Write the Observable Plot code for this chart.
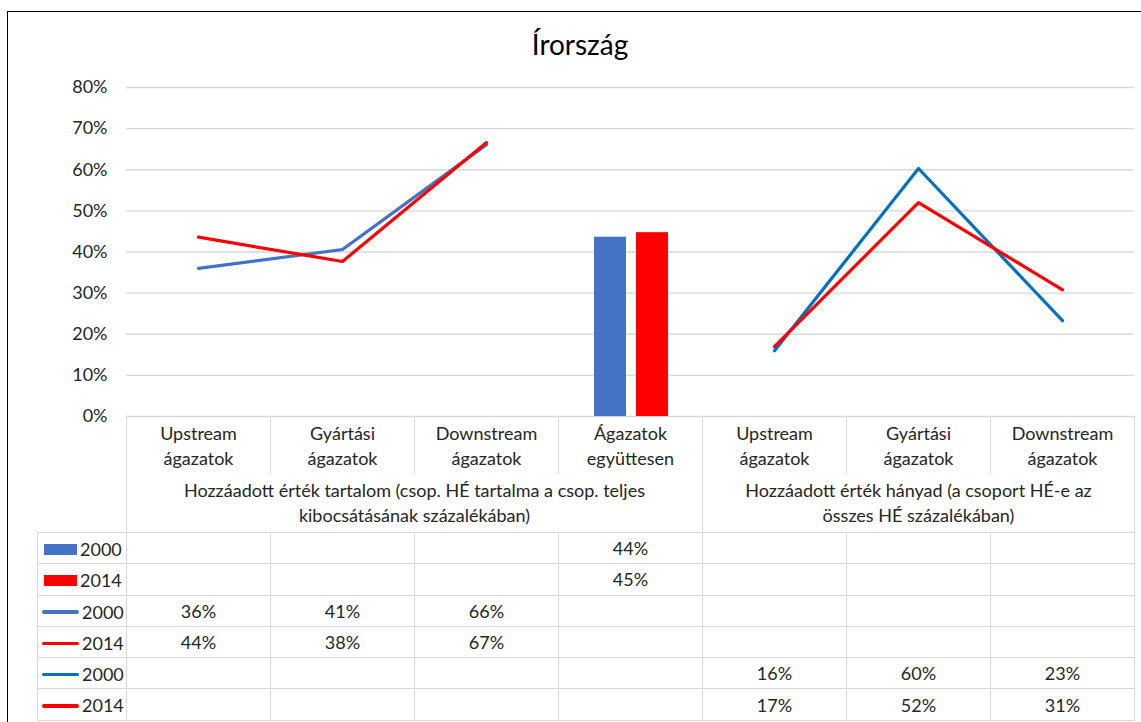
<!DOCTYPE html>
<html>
<head>
<meta charset="utf-8">
<script src="https://cdn.jsdelivr.net/npm/d3@7"></script>
<script src="https://cdn.jsdelivr.net/npm/@observablehq/plot@0.6"></script>
<style>
  html, body { margin: 0; padding: 0; background: #fff; }
  #wrap { position: relative; width: 1141px; height: 722px; overflow: hidden; font-family: Lato, "Open Sans", sans-serif; color: #262626; }
  #frame { position: absolute; left: 7px; top: 11px; width: 1146px; height: 730px; border: 1.5px solid #000; box-sizing: border-box; }
  #title { position: absolute; left: 0; top: 26px; width: 1160px; text-align: center; font-size: 28px; line-height: 36px; color: #000; }
  #chart { position: absolute; left: 0; top: 0; }
  #table { position: absolute; left: 37px; top: 416px; border-collapse: collapse; table-layout: fixed; font-size: 18px; color: #262626; }
  #table td { padding: 0; text-align: center; border: 1px solid #d9d9d9; white-space: nowrap; }
  #table td.blank { border: none; }
  #table tr.cats td.cat { border-bottom: none; vertical-align: top; padding-top: 4px; line-height: 25px; }
  #table tr.groups td.grp { border-top: none; vertical-align: middle; line-height: 25px; white-space: normal; }
  #table tr.data td { height: 30.3px; line-height: 20px; }
  #table td.leg { text-align: left; padding-left: 5px; }
  .key { display: inline-block; vertical-align: middle; margin-right: 3px; }
</style>
</head>
<body>
<div id="wrap">
  <div id="frame"></div>
  <div id="title"></div>
  <div id="chart"></div>
  <table id="table"></table>
</div>
<script>
// ---------- data ----------
const title = "Írország";
const categories = [
  "Upstream ágazatok", "Gyártási ágazatok", "Downstream ágazatok", "Ágazatok együttesen",
  "Upstream ágazatok", "Gyártási ágazatok", "Downstream ágazatok"
];
const categoryLines = [
  ["Upstream", "ágazatok"], ["Gyártási", "ágazatok"], ["Downstream", "ágazatok"], ["Ágazatok", "együttesen"],
  ["Upstream", "ágazatok"], ["Gyártási", "ágazatok"], ["Downstream", "ágazatok"]
];
const groupLabels = [
  ["Hozzáadott érték tartalom (csop. HÉ tartalma a csop. teljes", "kibocsátásának százalékában)"],
  ["Hozzáadott érték hányad (a csoport HÉ-e az", "összes HÉ százalékában)"]
];
const groupSpans = [4, 3];
const yTicks = [0, 0.1, 0.2, 0.3, 0.4, 0.5, 0.6, 0.7, 0.8];

// bars: "Ágazatok együttesen" (category index 3)
const barCategory = [3];
const bar2000 = [0.436];
const bar2014 = [0.447];

// lines: value-added content (category indices 0-2)
const contentCategories = [0, 1, 2];
const content2000 = [0.36, 0.406, 0.661];
const content2014 = [0.436, 0.377, 0.666];

// lines: value-added share (category indices 4-6)
const shareCategories = [4, 5, 6];
const share2000 = [0.16, 0.603, 0.233];
const share2014 = [0.17, 0.52, 0.308];

const seriesLabels = ["2000", "2014", "2000", "2014", "2000", "2014"];

// ---------- build ----------
const FONT = "Lato, 'Open Sans', sans-serif";
const pct = d3.format(".0%");
const zip = (cats, vals) => cats.map((c, i) => ({x: c, value: vals[i]}));

const series = [
  {label: seriesLabels[0], kind: "bar", color: "#4472C4", cats: barCategory, vals: bar2000},
  {label: seriesLabels[1], kind: "bar", color: "#FF0000", cats: barCategory, vals: bar2014},
  {label: seriesLabels[2], kind: "line", color: "#4472C4", cats: contentCategories, vals: content2000},
  {label: seriesLabels[3], kind: "line", color: "#FF0000", cats: contentCategories, vals: content2014},
  {label: seriesLabels[4], kind: "line", color: "#0070C0", cats: shareCategories, vals: share2000},
  {label: seriesLabels[5], kind: "line", color: "#FF0000", cats: shareCategories, vals: share2014}
];

document.getElementById("title").textContent = title;

const xDomain = d3.range(categories.length);

const chart = Plot.plot({
  width: 1141,
  height: 430,
  marginLeft: 126,
  marginRight: 7,
  marginTop: 87,
  marginBottom: 14,
  style: {fontFamily: FONT, fontSize: "18px", color: "#262626", background: "transparent", overflow: "visible"},
  x: {type: "band", domain: xDomain, padding: 0, axis: null, label: null},
  y: {domain: [0, 0.8], axis: null, label: null},
  marks: [
    Plot.ruleY(yTicks, {stroke: "#d9d9d9", strokeWidth: 1.3}),
    Plot.axisY({ticks: yTicks, tickFormat: pct, tickSize: 0, tickPadding: 19, fontSize: 18, fill: "#262626", label: null}),
    Plot.barY(zip(series[0].cats, series[0].vals), {x: "x", y: "value", fill: series[0].color, insetLeft: 36, insetRight: 76}),
    Plot.barY(zip(series[1].cats, series[1].vals), {x: "x", y: "value", fill: series[1].color, insetLeft: 78, insetRight: 34}),
    ...series.slice(2).map(s =>
      Plot.line(zip(s.cats, s.vals), {x: "x", y: "value", stroke: s.color, strokeWidth: 3.2, strokeLinecap: "round", strokeLinejoin: "round"})
    )
  ]
});
document.getElementById("chart").appendChild(chart);

// ---------- data table ----------
const table = d3.select("#table");
const colgroup = table.append("colgroup");
colgroup.append("col").style("width", "89px");
categories.forEach(() => colgroup.append("col").style("width", "144px"));

const catRow = table.append("tr").attr("class", "cats").style("height", "57px");
catRow.append("td").attr("class", "blank");
categoryLines.forEach(lines => {
  catRow.append("td").attr("class", "cat").html(lines.join("<br>"));
});

const grpRow = table.append("tr").attr("class", "groups").style("height", "59px");
grpRow.append("td").attr("class", "blank");
groupLabels.forEach((lines, i) => {
  grpRow.append("td").attr("class", "grp").attr("colspan", groupSpans[i]).html(lines.join("<br>"));
});

series.forEach(s => {
  const tr = table.append("tr").attr("class", "data");
  const leg = tr.append("td").attr("class", "leg");
  if (s.kind === "bar") {
    leg.append("span").attr("class", "key").style("width", "33px").style("height", "11px").style("background", s.color).style("margin-left", "1px");
  } else {
    leg.append("span").attr("class", "key").style("width", "37px").style("height", "3.5px").style("background", s.color).style("border-radius", "2px").style("margin-left", "-1px");
  }
  leg.append("span").style("vertical-align", "middle").text(s.label);
  categories.forEach((c, i) => {
    const j = s.cats.indexOf(i);
    tr.append("td").text(j >= 0 ? pct(s.vals[j]) : "");
  });
});
</script>
</body>
</html>
